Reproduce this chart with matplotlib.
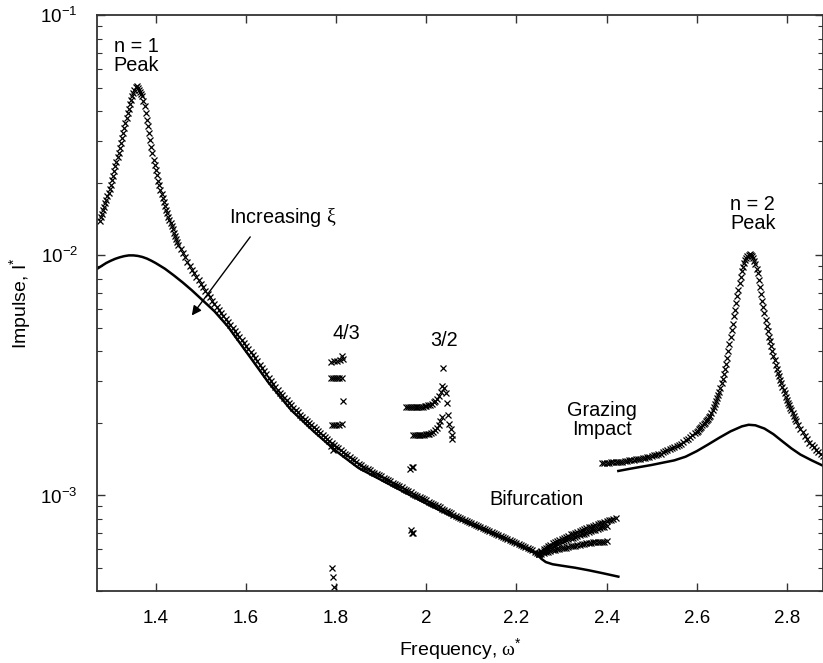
import matplotlib
matplotlib.use('Agg')
import matplotlib.pyplot as plt
from matplotlib.ticker import MultipleLocator, FuncFormatter

plt.rcParams['font.family'] = 'Liberation Sans'
plt.rcParams['mathtext.fontset'] = 'custom'
plt.rcParams['mathtext.rm'] = 'Liberation Serif'
plt.rcParams['mathtext.default'] = 'regular'

# lightly damped response, n = 1 branch (crosses)
w_n1 = [1.2750, 1.2775, 1.2800, 1.2825, 1.2850, 1.2875, 1.2900, 1.2925, 1.2950, 1.2975,
        1.3000, 1.3025, 1.3050, 1.3075, 1.3100, 1.3125, 1.3150, 1.3175, 1.3200, 1.3225,
        1.3250, 1.3275, 1.3300, 1.3325, 1.3350, 1.3375, 1.3400, 1.3425, 1.3450, 1.3475,
        1.3500, 1.3525, 1.3550, 1.3575, 1.3600, 1.3625, 1.3650, 1.3675, 1.3700, 1.3725,
        1.3750, 1.3775, 1.3800, 1.3825, 1.3850, 1.3875, 1.3900, 1.3925, 1.3950, 1.3975,
        1.4000, 1.4025, 1.4050, 1.4075, 1.4100, 1.4125, 1.4150, 1.4175, 1.4200, 1.4225,
        1.4250, 1.4275, 1.4300, 1.4325, 1.4350, 1.4375, 1.4400, 1.4425, 1.4450, 1.4475,
        1.450, 1.455, 1.460, 1.465, 1.470, 1.475, 1.480, 1.485, 1.490, 1.495,
        1.500, 1.505, 1.510, 1.515, 1.520, 1.525, 1.530, 1.535, 1.540, 1.545,
        1.550, 1.555, 1.560, 1.565, 1.570, 1.575, 1.580, 1.585, 1.590, 1.595,
        1.600, 1.605, 1.610, 1.615, 1.620, 1.625, 1.630, 1.635, 1.640, 1.645,
        1.650, 1.655, 1.660, 1.665, 1.670, 1.675, 1.680, 1.685, 1.690, 1.695,
        1.700, 1.705, 1.710, 1.715, 1.720, 1.725, 1.730, 1.735, 1.740, 1.745,
        1.750, 1.755, 1.760, 1.765, 1.770, 1.775, 1.780, 1.785, 1.790, 1.795,
        1.800, 1.805, 1.810, 1.815, 1.820, 1.825, 1.830, 1.835, 1.840, 1.845,
        1.850, 1.855, 1.860, 1.865, 1.870, 1.875, 1.880, 1.885, 1.890, 1.895,
        1.900, 1.905, 1.910, 1.915, 1.920, 1.925, 1.930, 1.935, 1.940, 1.945,
        1.950, 1.955, 1.960, 1.965, 1.970, 1.975, 1.980, 1.985, 1.990, 1.995,
        2.000, 2.005, 2.010, 2.015, 2.020, 2.025, 2.030, 2.035, 2.040, 2.045,
        2.050, 2.055, 2.060, 2.065, 2.070, 2.075, 2.080, 2.085, 2.090, 2.095,
        2.100, 2.105, 2.110, 2.115, 2.120, 2.125, 2.130, 2.135, 2.140, 2.145,
        2.150, 2.155, 2.160, 2.165, 2.170, 2.175, 2.180, 2.185, 2.190, 2.195,
        2.200, 2.205, 2.210, 2.215, 2.220, 2.225, 2.230, 2.235, 2.240, 2.245, 2.250]
I_n1 = [1.393e-2, 1.441e-2, 1.489e-2, 1.542e-2, 1.595e-2, 1.650e-2, 1.704e-2, 1.765e-2, 1.827e-2, 1.897e-2,
        1.967e-2, 2.058e-2, 2.150e-2, 2.250e-2, 2.350e-2, 2.455e-2, 2.559e-2, 2.678e-2, 2.797e-2, 2.937e-2,
        3.077e-2, 3.235e-2, 3.393e-2, 3.565e-2, 3.737e-2, 3.907e-2, 4.077e-2, 4.262e-2, 4.448e-2, 4.605e-2,
        4.761e-2, 4.890e-2, 5.020e-2, 5.090e-2, 4.971e-2, 4.885e-2, 4.798e-2, 4.705e-2, 4.612e-2, 4.403e-2,
        4.195e-2, 3.932e-2, 3.670e-2, 3.450e-2, 3.229e-2, 3.027e-2, 2.826e-2, 2.661e-2, 2.497e-2, 2.380e-2,
        2.262e-2, 2.155e-2, 2.047e-2, 1.960e-2, 1.872e-2, 1.802e-2, 1.733e-2, 1.670e-2, 1.608e-2, 1.552e-2,
        1.496e-2, 1.451e-2, 1.406e-2, 1.364e-2, 1.323e-2, 1.284e-2, 1.245e-2, 1.208e-2, 1.171e-2, 1.137e-2,
        1.104e-2, 1.063e-2, 1.023e-2, 9.81e-3, 9.40e-3, 9.06e-3, 8.73e-3, 8.43e-3, 8.14e-3, 7.87e-3,
        7.60e-3, 7.37e-3, 7.14e-3, 6.91e-3, 6.69e-3, 6.48e-3, 6.28e-3, 6.10e-3, 5.92e-3, 5.75e-3,
        5.59e-3, 5.43e-3, 5.27e-3, 5.12e-3, 4.98e-3, 4.84e-3, 4.71e-3, 4.58e-3, 4.45e-3, 4.32e-3,
        4.20e-3, 4.08e-3, 3.97e-3, 3.85e-3, 3.74e-3, 3.62e-3, 3.51e-3, 3.40e-3, 3.30e-3, 3.20e-3,
        3.10e-3, 3.01e-3, 2.92e-3, 2.83e-3, 2.75e-3, 2.68e-3, 2.61e-3, 2.55e-3, 2.49e-3, 2.43e-3,
        2.38e-3, 2.32e-3, 2.27e-3, 2.22e-3, 2.17e-3, 2.13e-3, 2.09e-3, 2.05e-3, 2.01e-3, 1.97e-3,
        1.93e-3, 1.895e-3, 1.86e-3, 1.822e-3, 1.785e-3, 1.750e-3, 1.716e-3, 1.685e-3, 1.654e-3, 1.626e-3,
        1.599e-3, 1.573e-3, 1.547e-3, 1.521e-3, 1.495e-3, 1.471e-3, 1.447e-3, 1.423e-3, 1.399e-3, 1.376e-3,
        1.352e-3, 1.334e-3, 1.317e-3, 1.302e-3, 1.287e-3, 1.272e-3, 1.257e-3, 1.243e-3, 1.229e-3, 1.214e-3,
        1.200e-3, 1.186e-3, 1.172e-3, 1.158e-3, 1.145e-3, 1.132e-3, 1.119e-3, 1.106e-3, 1.093e-3, 1.080e-3,
        1.067e-3, 1.054e-3, 1.042e-3, 1.030e-3, 1.019e-3, 1.007e-3, 9.96e-4, 9.85e-4, 9.74e-4, 9.63e-4,
        9.53e-4, 9.42e-4, 9.32e-4, 9.21e-4, 9.10e-4, 9.00e-4, 8.91e-4, 8.81e-4, 8.71e-4, 8.61e-4,
        8.51e-4, 8.42e-4, 8.33e-4, 8.25e-4, 8.17e-4, 8.09e-4, 8.01e-4, 7.93e-4, 7.85e-4, 7.77e-4,
        7.70e-4, 7.62e-4, 7.55e-4, 7.48e-4, 7.41e-4, 7.33e-4, 7.26e-4, 7.19e-4, 7.12e-4, 7.05e-4,
        6.98e-4, 6.91e-4, 6.85e-4, 6.78e-4, 6.72e-4, 6.65e-4, 6.59e-4, 6.52e-4, 6.46e-4, 6.39e-4,
        6.33e-4, 6.26e-4, 6.20e-4, 6.14e-4, 6.08e-4, 6.02e-4, 5.96e-4, 5.90e-4, 5.84e-4, 5.78e-4, 5.72e-4]

# bifurcated branches after w = 2.25
w_bif = [2.250, 2.255, 2.260, 2.265, 2.270, 2.275, 2.280, 2.285, 2.290, 2.295,
         2.300, 2.305, 2.310, 2.315, 2.320, 2.325, 2.330, 2.335, 2.340, 2.345,
         2.350, 2.355, 2.360, 2.365, 2.370, 2.375, 2.380, 2.385, 2.390, 2.395,
         2.400, 2.405, 2.410, 2.415, 2.420]
I_bif_a = [5.76e-4, 5.86e-4, 5.96e-4, 6.06e-4, 6.16e-4, 6.24e-4, 6.31e-4, 6.38e-4, 6.44e-4, 6.52e-4,
           6.59e-4, 6.66e-4, 6.73e-4, 6.81e-4, 6.88e-4, 6.94e-4, 7.00e-4, 7.06e-4, 7.11e-4, 7.18e-4,
           7.24e-4, 7.30e-4, 7.36e-4, 7.42e-4, 7.47e-4, 7.54e-4, 7.60e-4, 7.66e-4, 7.71e-4, 7.77e-4,
           7.82e-4, 7.88e-4, 7.93e-4, 7.99e-4, 8.05e-4]
I_bif_b = [5.73e-4, 5.80e-4, 5.87e-4, 5.95e-4, 6.02e-4, 6.09e-4, 6.16e-4, 6.23e-4, 6.30e-4, 6.36e-4,
           6.41e-4, 6.47e-4, 6.52e-4, 6.58e-4, 6.63e-4, 6.68e-4, 6.73e-4, 6.79e-4, 6.84e-4, 6.89e-4,
           6.94e-4, 7.00e-4, 7.05e-4, 7.10e-4, 7.15e-4, 7.20e-4, 7.25e-4, 7.31e-4, 7.36e-4, 7.41e-4,
           7.46e-4]
I_bif_c = [5.70e-4, 5.73e-4, 5.77e-4, 5.80e-4, 5.84e-4, 5.87e-4, 5.91e-4, 5.94e-4, 5.97e-4, 6.00e-4,
           6.02e-4, 6.05e-4, 6.07e-4, 6.10e-4, 6.13e-4, 6.15e-4, 6.18e-4, 6.21e-4, 6.24e-4, 6.26e-4,
           6.29e-4, 6.32e-4, 6.35e-4, 6.36e-4, 6.38e-4, 6.39e-4, 6.40e-4, 6.41e-4, 6.42e-4, 6.43e-4,
           6.44e-4]

# 4/3 subharmonic points
w_43 = [1.788, 1.795, 1.802, 1.808, 1.815, 1.812,
        1.788, 1.792, 1.797, 1.802, 1.807, 1.812,
        1.8155,
        1.790, 1.795, 1.800, 1.806, 1.812,
        1.789, 1.792,
        1.790, 1.792, 1.795]
I_43 = [3.60e-3, 3.63e-3, 3.63e-3, 3.66e-3, 3.70e-3, 3.81e-3,
        3.08e-3, 3.08e-3, 3.08e-3, 3.08e-3, 3.08e-3, 3.08e-3,
        2.47e-3,
        1.96e-3, 1.96e-3, 1.96e-3, 1.97e-3, 1.98e-3,
        1.60e-3, 1.55e-3,
        5.01e-4, 4.59e-4, 4.14e-4]

# 3/2 subharmonic points
w_32_up = [1.956, 1.960, 1.964, 1.968, 1.972, 1.976, 1.980, 1.984, 1.988, 1.992, 1.996,
           2.000, 2.004, 2.008, 2.012, 2.016, 2.020, 2.024, 2.028, 2.032, 2.035, 2.0375]
I_32_up = [2.33e-3, 2.33e-3, 2.33e-3, 2.33e-3, 2.33e-3, 2.33e-3, 2.33e-3, 2.33e-3, 2.34e-3, 2.34e-3, 2.35e-3,
           2.36e-3, 2.37e-3, 2.39e-3, 2.41e-3, 2.44e-3, 2.48e-3, 2.53e-3, 2.60e-3, 2.70e-3, 2.85e-3, 3.39e-3]
w_32_lo = [1.971, 1.975, 1.979, 1.983, 1.987, 1.991, 1.995, 1.999, 2.003, 2.007, 2.011,
           2.015, 2.019, 2.023, 2.027, 2.031, 2.034]
I_32_lo = [1.79e-3, 1.79e-3, 1.79e-3, 1.79e-3, 1.79e-3, 1.79e-3, 1.79e-3, 1.80e-3, 1.80e-3, 1.81e-3, 1.82e-3,
           1.84e-3, 1.87e-3, 1.91e-3, 1.96e-3, 2.04e-3, 2.12e-3]
w_32_dn = [2.039, 2.043, 2.045, 2.049, 2.051, 2.054, 2.056, 2.056,
           1.964, 1.968, 1.970, 1.966, 1.968, 1.970]
I_32_dn = [2.80e-3, 2.66e-3, 2.42e-3, 2.16e-3, 1.99e-3, 1.90e-3, 1.78e-3, 1.72e-3,
           1.29e-3, 1.31e-3, 1.32e-3, 7.20e-4, 7.00e-4, 6.95e-4]

# grazing branch and n = 2 peak (crosses)
w_n2 = [2.390, 2.395, 2.400, 2.405, 2.410, 2.415, 2.420, 2.425, 2.430, 2.435,
        2.440, 2.445, 2.450, 2.455, 2.460, 2.465, 2.470, 2.475, 2.480, 2.485,
        2.490, 2.495, 2.500, 2.505, 2.510, 2.515, 2.520, 2.525, 2.530, 2.535,
        2.540, 2.545, 2.550, 2.555, 2.560, 2.565, 2.570, 2.575, 2.580, 2.585,
        2.590, 2.595, 2.6000, 2.6025, 2.6050, 2.6075, 2.6100, 2.6125, 2.6150, 2.6175,
        2.6200, 2.6225, 2.6250, 2.6275, 2.6300, 2.6325, 2.6350, 2.6375, 2.6400, 2.6425,
        2.6450, 2.6475, 2.6500, 2.6525, 2.6550, 2.6575, 2.6600, 2.6625, 2.6650, 2.6675,
        2.6700, 2.6725, 2.6750, 2.6775, 2.6800, 2.6825, 2.6850, 2.6875, 2.6900, 2.6925,
        2.6950, 2.6975, 2.7000, 2.7025, 2.7050, 2.7075, 2.7100, 2.7125, 2.7150, 2.7175,
        2.7200, 2.7225, 2.7250, 2.7275, 2.7300, 2.7325, 2.7350, 2.7375, 2.7400, 2.7425,
        2.7450, 2.7475, 2.7500, 2.7525, 2.7550, 2.7575, 2.7600, 2.7625, 2.7650, 2.7675,
        2.7700, 2.7725, 2.7750, 2.7775, 2.7800, 2.7825, 2.7850, 2.7875, 2.7900, 2.7925,
        2.7950, 2.7975, 2.8000, 2.8025, 2.8050, 2.8075, 2.8100, 2.8125, 2.8150, 2.8175,
        2.820, 2.825, 2.830, 2.835, 2.840, 2.845, 2.850, 2.855, 2.860, 2.865,
        2.870, 2.875, 2.880]
I_n2 = [1.365e-3, 1.366e-3, 1.368e-3, 1.370e-3, 1.373e-3, 1.375e-3, 1.376e-3, 1.378e-3, 1.380e-3, 1.385e-3,
        1.390e-3, 1.395e-3, 1.399e-3, 1.404e-3, 1.408e-3, 1.413e-3, 1.417e-3, 1.424e-3, 1.431e-3, 1.438e-3,
        1.446e-3, 1.453e-3, 1.461e-3, 1.470e-3, 1.478e-3, 1.486e-3, 1.495e-3, 1.510e-3, 1.526e-3, 1.541e-3,
        1.556e-3, 1.571e-3, 1.586e-3, 1.602e-3, 1.619e-3, 1.643e-3, 1.668e-3, 1.696e-3, 1.724e-3, 1.754e-3,
        1.784e-3, 1.813e-3, 1.843e-3, 1.864e-3, 1.886e-3, 1.911e-3, 1.936e-3, 1.961e-3, 1.986e-3, 2.011e-3,
        2.036e-3, 2.062e-3, 2.088e-3, 2.119e-3, 2.151e-3, 2.214e-3, 2.278e-3, 2.343e-3, 2.409e-3, 2.480e-3,
        2.551e-3, 2.625e-3, 2.70e-3, 2.81e-3, 2.93e-3, 3.07e-3, 3.22e-3, 3.37e-3, 3.53e-3, 3.75e-3,
        3.98e-3, 4.26e-3, 4.56e-3, 4.87e-3, 5.20e-3, 5.57e-3, 5.95e-3, 6.36e-3, 6.78e-3, 7.20e-3,
        7.64e-3, 8.11e-3, 8.60e-3, 8.95e-3, 9.31e-3, 9.55e-3, 9.79e-3, 9.92e-3, 1.004e-2, 1.010e-2,
        1.004e-2, 9.92e-3, 9.79e-3, 9.48e-3, 9.17e-3, 8.80e-3, 8.43e-3, 7.90e-3, 7.39e-3, 6.92e-3,
        6.46e-3, 6.09e-3, 5.73e-3, 5.40e-3, 5.08e-3, 4.83e-3, 4.58e-3, 4.38e-3, 4.18e-3, 4.00e-3,
        3.82e-3, 3.65e-3, 3.49e-3, 3.36e-3, 3.23e-3, 3.13e-3, 3.03e-3, 2.93e-3, 2.84e-3, 2.75e-3,
        2.66e-3, 2.57e-3, 2.49e-3, 2.43e-3, 2.37e-3, 2.31e-3, 2.26e-3, 2.20e-3, 2.15e-3, 2.09e-3,
        2.04e-3, 1.965e-3, 1.894e-3, 1.830e-3, 1.770e-3, 1.712e-3, 1.655e-3, 1.620e-3, 1.585e-3, 1.554e-3,
        1.523e-3, 1.493e-3, 1.463e-3]

# heavier damping (solid lines)
w_s1 = [1.27, 1.28, 1.29, 1.30, 1.31, 1.32, 1.33, 1.34, 1.35, 1.36,
        1.37, 1.38, 1.39, 1.40, 1.42, 1.44, 1.46, 1.48, 1.50, 1.53,
        1.56, 1.60, 1.65, 1.70, 1.75, 1.80, 1.85, 1.90, 1.95, 2.00,
        2.05, 2.10, 2.15, 2.20, 2.245]
I_s1 = [8.8e-3, 9.05e-3, 9.3e-3, 9.5e-3, 9.68e-3, 9.82e-3, 9.93e-3, 1.0e-2, 1.0e-2, 9.95e-3,
        9.85e-3, 9.7e-3, 9.5e-3, 9.28e-3, 8.8e-3, 8.25e-3, 7.7e-3, 7.15e-3, 6.6e-3, 5.85e-3,
        5.05e-3, 3.98e-3, 2.95e-3, 2.27e-3, 1.85e-3, 1.53e-3, 1.30e-3, 1.16e-3, 1.035e-3, 9.25e-4,
        8.30e-4, 7.55e-4, 6.88e-4, 6.26e-4, 5.70e-4]
w_s1b = [2.245, 2.255, 2.265, 2.28, 2.30, 2.33, 2.36, 2.39, 2.426]
I_s1b = [5.70e-4, 5.45e-4, 5.28e-4, 5.17e-4, 5.10e-4, 5.00e-4, 4.88e-4, 4.75e-4, 4.59e-4]
w_s2 = [2.426, 2.45, 2.475, 2.50, 2.525, 2.55, 2.575, 2.60, 2.625, 2.65,
        2.675, 2.70, 2.715, 2.73, 2.75, 2.77, 2.79, 2.81, 2.83, 2.855, 2.88]
I_s2 = [1.265e-3, 1.29e-3, 1.315e-3, 1.34e-3, 1.37e-3, 1.40e-3, 1.45e-3, 1.53e-3, 1.63e-3, 1.74e-3,
        1.85e-3, 1.94e-3, 1.97e-3, 1.96e-3, 1.90e-3, 1.80e-3, 1.68e-3, 1.57e-3, 1.48e-3, 1.40e-3, 1.33e-3]

fig = plt.figure(figsize=(8.23, 6.63), dpi=100)
ax = fig.add_axes([0.1182, 0.1086, 0.8818, 0.8683])

mk = dict(ls='none', marker='x', ms=4.5, mew=0.9, color='black')
ax.plot(w_n1, I_n1, **mk)
ax.plot(w_bif, I_bif_a, **mk)
ax.plot(w_bif[:len(I_bif_b)], I_bif_b, **mk)
ax.plot(w_bif[:len(I_bif_c)], I_bif_c, **mk)
ax.plot(w_43, I_43, **mk)
ax.plot(w_32_up, I_32_up, **mk)
ax.plot(w_32_lo, I_32_lo, **mk)
ax.plot(w_32_dn, I_32_dn, **mk)
ax.plot(w_n2, I_n2, **mk)

ax.plot(w_s1, I_s1, color='black', lw=1.8)
ax.plot(w_s1b, I_s1b, color='black', lw=1.8)
ax.plot(w_s2, I_s2, color='black', lw=1.8)

ax.set_yscale('log')
ax.set_xlim(1.27, 2.88)
ax.set_ylim(4.0e-4, 1e-1)
ax.xaxis.set_major_locator(MultipleLocator(0.2))
ax.xaxis.set_major_formatter(FuncFormatter(lambda v, p: '%g' % round(v, 1)))
ax.tick_params(which='both', direction='in', top=True, right=True,
               labelsize=13.5, pad=14, color='#333333')
ax.tick_params(which='major', length=6, width=1)
ax.tick_params(which='minor', length=3.5, width=0.8)
for s in ax.spines.values():
    s.set_color('#333333')
    s.set_linewidth(1.3)

ax.set_xlabel('Frequency, $\\mathrm{\\omega}^{*}$', fontsize=14, labelpad=6)
ax.set_ylabel('Impulse, I$^{*}$', fontsize=14, labelpad=5)

fs = 14.3
ax.text(1.357, 0.0675, 'n = 1\nPeak', ha='center', va='center', fontsize=fs, linespacing=1.0)
ax.text(2.724, 0.0149, 'n = 2\nPeak', ha='center', va='center', fontsize=fs, linespacing=1.0)
ax.text(1.823, 4.73e-3, '4/3', ha='center', va='center', fontsize=fs)
ax.text(2.040, 4.44e-3, '3/2', ha='center', va='center', fontsize=fs)
ax.text(2.245, 9.65e-4, 'Bifurcation', ha='center', va='center', fontsize=fs)
ax.text(2.389, 2.07e-3, 'Grazing\nImpact', ha='center', va='center', fontsize=fs, linespacing=1.0)
ax.text(1.682, 1.44e-2, 'Increasing $\\mathrm{\\xi}$', ha='center', va='center', fontsize=fs)
ax.annotate('', xy=(1.476, 5.5e-3), xytext=(1.613, 1.22e-2),
            arrowprops=dict(arrowstyle='-|>', color='black', lw=1.0, mutation_scale=14))

fig.savefig('out.png', dpi=100)
